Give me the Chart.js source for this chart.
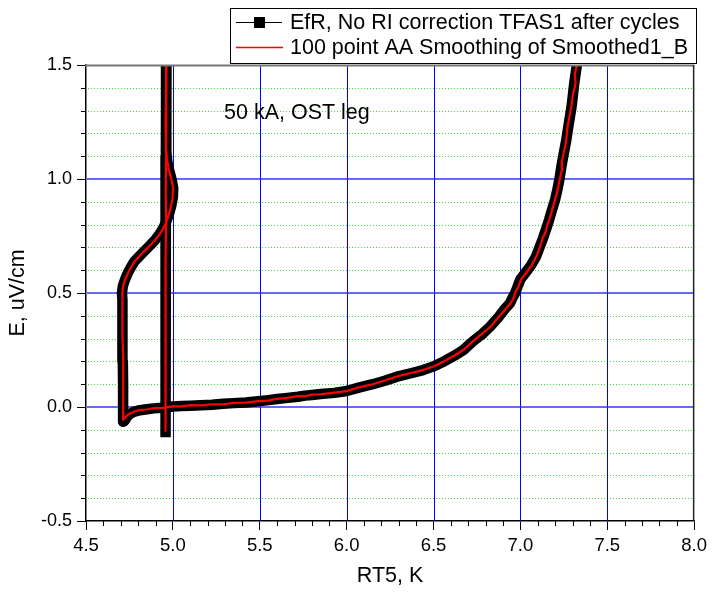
<!DOCTYPE html>
<html><head><meta charset="utf-8">
<script src="https://cdn.jsdelivr.net/npm/chart.js@4.4.1/dist/chart.umd.min.js"></script>
<style>html,body{margin:0;padding:0;background:#fff;}#wrap{width:712px;height:592px;position:relative;}</style>
</head><body><div id="wrap"><canvas id="c" width="712" height="592"></canvas></div>
<script>
// ---- data ----
const xTickValues = [4.5, 5.0, 5.5, 6.0, 6.5, 7.0, 7.5, 8.0];
const yTickValues = [-0.5, 0.0, 0.5, 1.0, 1.5];
const xTitle = "RT5, K";
const yTitle = "E, uV/cm";
const seriesNames = ["EfR, No RI correction TFAS1 after cycles", "100 point AA Smoothing of Smoothed1_B"];
const annotationText = "50 kA, OST leg";

// measured series: main loop [T, E]
const loopPoints = [
 [7.345,1.55],[7.325,1.50],[7.31,1.42],[7.295,1.32],[7.278,1.24],[7.264,1.17],[7.249,1.11],[7.235,1.05],
 [7.225,1.00],[7.212,0.95],[7.20,0.91],[7.18,0.86],[7.165,0.82],[7.148,0.78],[7.13,0.74],[7.11,0.70],
 [7.09,0.66],[7.06,0.62],[7.03,0.59],[7.0,0.56],[6.985,0.53],[6.97,0.50],[6.955,0.48],[6.94,0.455],
 [6.91,0.43],[6.87,0.39],[6.825,0.352],[6.78,0.32],[6.73,0.29],[6.672,0.25],[6.62,0.225],[6.56,0.20],
 [6.496,0.177],[6.44,0.162],[6.37,0.148],[6.29,0.133],[6.22,0.115],[6.15,0.10],[6.07,0.085],[6.0,0.07],
 [5.93,0.062],[5.85,0.057],[5.80,0.053],[5.76,0.05],[5.72,0.045],[5.66,0.04],[5.60,0.035],[5.55,0.03],
 [5.49,0.025],[5.42,0.02],[5.35,0.017],[5.29,0.014],[5.225,0.01],[5.16,0.008],[5.10,0.006],[5.05,0.004],
 [5.0,0.002],[4.94,-0.003],[4.89,-0.006],[4.85,-0.01],[4.81,-0.014],[4.78,-0.02],[4.76,-0.027],[4.745,-0.035],
 [4.73,-0.05],[4.722,-0.06],[4.716,-0.065],[4.714,0.0],[4.713,0.1],[4.712,0.2],[4.711,0.3],[4.71,0.4],
 [4.708,0.47],[4.707,0.5],[4.712,0.53],[4.725,0.56],[4.742,0.59],[4.76,0.615],[4.78,0.64],[4.805,0.66],
 [4.837,0.685],[4.87,0.71],[4.90,0.735],[4.925,0.76],[4.945,0.785],[4.96,0.81],[4.975,0.84],[4.99,0.88],
 [5.0,0.92],[5.002,0.96],[4.992,1.0],[4.978,1.04],[4.967,1.08],[4.962,1.12],[4.961,1.2],[4.961,1.35],[4.962,1.55]
];
// measured series: straight leg at ~4.96 K
const legPoints = [
 [4.962,1.55],[4.961,1.3],[4.960,1.1],[4.960,0.9],[4.959,0.7],[4.958,0.5],[4.958,0.3],[4.957,0.1],[4.957,0.0],[4.956,-0.11]
];
// smoothed series (red), main loop
const smoothLoopPoints = [
 [7.34,1.55],[7.326,1.50],[7.313,1.46],[7.318,1.42],[7.302,1.37],[7.294,1.32],[7.281,1.27],[7.27,1.22],
 [7.264,1.17],[7.251,1.12],[7.237,1.07],[7.239,1.04],[7.224,0.99],[7.214,0.95],[7.2,0.91],[7.185,0.87],
 [7.17,0.83],[7.152,0.79],[7.146,0.77],[7.128,0.74],[7.112,0.70],[7.092,0.66],[7.064,0.62],[7.035,0.59],
 [7.004,0.56],[6.99,0.53],[6.972,0.505],[6.962,0.48],[6.944,0.455],[6.915,0.43],[6.87,0.39],[6.828,0.352],
 [6.78,0.322],[6.73,0.29],[6.675,0.252],[6.62,0.226],[6.56,0.20],[6.50,0.178],[6.44,0.162],[6.37,0.149],
 [6.29,0.134],[6.22,0.116],[6.15,0.10],[6.07,0.086],[6.0,0.07],[5.93,0.063],[5.85,0.056],[5.80,0.054],
 [5.76,0.047],[5.72,0.048],[5.66,0.04],[5.60,0.036],[5.55,0.028],[5.49,0.026],[5.42,0.019],[5.35,0.018],
 [5.29,0.012],[5.225,0.012],[5.16,0.007],[5.10,0.008],[5.05,0.003],[5.0,0.003],[4.94,-0.004],[4.89,-0.005],
 [4.85,-0.011],[4.81,-0.013],[4.78,-0.02],[4.76,-0.026],[4.745,-0.032],[4.732,-0.04],[4.722,-0.05],[4.716,-0.055],
 [4.715,0.0],[4.713,0.1],[4.714,0.2],[4.711,0.3],[4.712,0.4],[4.709,0.47],[4.708,0.5],[4.713,0.53],
 [4.726,0.56],[4.743,0.59],[4.761,0.615],[4.781,0.64],[4.806,0.66],[4.838,0.685],[4.871,0.71],[4.901,0.735],
 [4.926,0.76],[4.946,0.785],[4.961,0.81],[4.975,0.84],[4.989,0.88],[4.999,0.92],[5.001,0.96],[4.991,1.0],
 [4.977,1.04],[4.967,1.08],[4.962,1.12],[4.961,1.2],[4.961,1.35],[4.962,1.55]
];
// smoothed series (red), straight leg
const smoothLegPoints = [
 [4.961,1.55],[4.962,1.4],[4.958,1.25],[4.961,1.1],[4.959,0.95],[4.961,0.8],[4.958,0.65],[4.96,0.5],
 [4.957,0.35],[4.959,0.2],[4.956,0.05],[4.958,-0.05],[4.956,-0.105]
];

const toXY = pts => pts.map(p => ({x: p[0], y: p[1]}));
const FONT = '"Liberation Sans", Arial, sans-serif';

const decorPlugin = {
  id: 'decor',
  beforeDatasetsDraw(chart) {
    const {ctx, chartArea: a, scales: {x, y}} = chart;
    ctx.save();
    // minor horizontal dotted grid
    ctx.strokeStyle = '#3fdc3f';
    ctx.lineWidth = 1;
    ctx.setLineDash([1, 2]);
    for (let i = 0; i < yTickValues.length - 1; i++) {
      for (let k = 1; k < 5; k++) {
        const v = yTickValues[i] + (yTickValues[i+1] - yTickValues[i]) * k / 5;
        const py = Math.round(y.getPixelForValue(v)) + 0.5;
        ctx.beginPath(); ctx.moveTo(a.left + 2, py); ctx.lineTo(a.right, py); ctx.stroke();
      }
    }
    ctx.setLineDash([]);
    // major grid
    ctx.strokeStyle = '#0000ff'; ctx.lineWidth = 1;
    for (let i = 1; i < xTickValues.length - 1; i++) {
      const px = Math.round(x.getPixelForValue(xTickValues[i])) + 0.5;
      ctx.beginPath(); ctx.moveTo(px, a.top); ctx.lineTo(px, a.bottom); ctx.stroke();
    }
    ctx.strokeStyle = 'rgba(40,40,255,0.7)'; ctx.lineWidth = 2;
    for (let i = 1; i < yTickValues.length - 1; i++) {
      const py = Math.round(y.getPixelForValue(yTickValues[i]));
      ctx.beginPath(); ctx.moveTo(a.left + 1, py); ctx.lineTo(a.right, py); ctx.stroke();
    }
    ctx.restore();
  },
  afterDraw(chart) {
    const {ctx, chartArea: a, scales: {x, y}} = chart;
    ctx.save();
    // minor ticks
    ctx.strokeStyle = '#000'; ctx.lineWidth = 1;
    for (let i = 0; i < yTickValues.length - 1; i++) {
      for (let k = 1; k < 5; k++) {
        const v = yTickValues[i] + (yTickValues[i+1] - yTickValues[i]) * k / 5;
        const py = Math.round(y.getPixelForValue(v)) + 0.5;
        ctx.beginPath(); ctx.moveTo(a.left - 5, py); ctx.lineTo(a.left, py); ctx.stroke();
      }
    }
    for (let i = 0; i < xTickValues.length - 1; i++) {
      for (let k = 1; k < 5; k++) {
        const v = xTickValues[i] + (xTickValues[i+1] - xTickValues[i]) * k / 5;
        const px = Math.round(x.getPixelForValue(v)) + 0.5;
        ctx.beginPath(); ctx.moveTo(px, a.bottom); ctx.lineTo(px, a.bottom + 5); ctx.stroke();
      }
    }
    // frame top (grey) and right
    ctx.strokeStyle = '#777'; ctx.lineWidth = 2;
    ctx.beginPath(); ctx.moveTo(a.left - 1, a.top + 0.5); ctx.lineTo(a.right, a.top + 0.5); ctx.stroke();
    ctx.strokeStyle = '#222'; ctx.lineWidth = 1.5;
    ctx.beginPath(); ctx.moveTo(a.right - 0.5, a.top); ctx.lineTo(a.right - 0.5, a.bottom); ctx.stroke();

    // annotation
    ctx.fillStyle = '#000';
    ctx.font = '21.5px ' + FONT;
    ctx.textBaseline = 'middle'; ctx.textAlign = 'left';
    ctx.fillText(annotationText, 224, 113);

    // legend
    ctx.fillStyle = '#fff';
    ctx.fillRect(230, 8, 466, 55);
    ctx.strokeStyle = '#000'; ctx.lineWidth = 1;
    ctx.strokeRect(230.5, 8.5, 466, 55);
    ctx.strokeStyle = '#000'; ctx.lineWidth = 1;
    ctx.beginPath(); ctx.moveTo(236, 22.5); ctx.lineTo(282, 22.5); ctx.stroke();
    ctx.fillStyle = '#000';
    ctx.fillRect(254, 17, 11, 11);
    ctx.strokeStyle = '#ff0000'; ctx.lineWidth = 1.3;
    ctx.beginPath(); ctx.moveTo(236, 47.5); ctx.lineTo(283, 47.5); ctx.stroke();
    ctx.fillStyle = '#000';
    ctx.font = '21.5px ' + FONT;
    ctx.fillText(seriesNames[0], 290, 23);
    ctx.fillText(seriesNames[1], 290, 48);
    ctx.restore();
  }
};

const blackBase = {borderColor: '#000', backgroundColor: '#000', borderWidth: 10.5, pointRadius: 0,
  showLine: true, tension: 0, borderJoinStyle: 'round', borderCapStyle: 'square', clip: 0, order: 2};
const redBase = {borderColor: '#ff0000', backgroundColor: '#ff0000', borderWidth: 2.2, pointRadius: 0,
  showLine: true, tension: 0, borderJoinStyle: 'round', clip: 0, order: 1};

new Chart(document.getElementById('c'), {
  type: 'scatter',
  data: {
    datasets: [
      Object.assign({label: seriesNames[1], data: toXY(smoothLoopPoints)}, redBase),
      Object.assign({label: seriesNames[1], data: toXY(smoothLegPoints)}, redBase),
      Object.assign({label: seriesNames[0], data: toXY(loopPoints)}, blackBase),
      Object.assign({label: seriesNames[0], data: toXY(legPoints)}, blackBase)
    ]
  },
  options: {
    responsive: false, animation: false, devicePixelRatio: 1,
    layout: {padding: {top: 65, right: 14, left: 0, bottom: 0}},
    plugins: {legend: {display: false}, tooltip: {enabled: false}},
    scales: {
      x: {
        type: 'linear', min: xTickValues[0], max: xTickValues[xTickValues.length-1],
        afterBuildTicks: s => { s.ticks = xTickValues.map(v => ({value: v})); },
        afterFit: s => { s.height = 71; },
        ticks: {color: '#000', font: {family: FONT, size: 18.5}, padding: 5, maxRotation: 0, autoSkip: false,
          callback: v => Number(v).toFixed(1)},
        grid: {drawOnChartArea: false, tickColor: '#000', tickLength: 9, tickWidth: 1},
        border: {color: '#000', width: 1.5},
        title: {display: true, text: xTitle, color: '#000', font: {family: FONT, size: 21.5}, padding: {top: 0, bottom: 3}}
      },
      y: {
        type: 'linear', min: yTickValues[0], max: yTickValues[yTickValues.length-1],
        afterBuildTicks: s => { s.ticks = yTickValues.map(v => ({value: v})); },
        afterFit: s => { s.width = 86; },
        ticks: {color: '#000', font: {family: FONT, size: 18}, padding: 5,
          callback: v => Number(v).toFixed(1)},
        grid: {drawOnChartArea: false, tickColor: '#000', tickLength: 9, tickWidth: 1},
        border: {color: '#000', width: 1.5},
        title: {display: true, text: yTitle, color: '#000', font: {family: FONT, size: 21.5}, padding: {top: 5, bottom: 0}}
      }
    }
  },
  plugins: [decorPlugin]
});
</script>
</body></html>
